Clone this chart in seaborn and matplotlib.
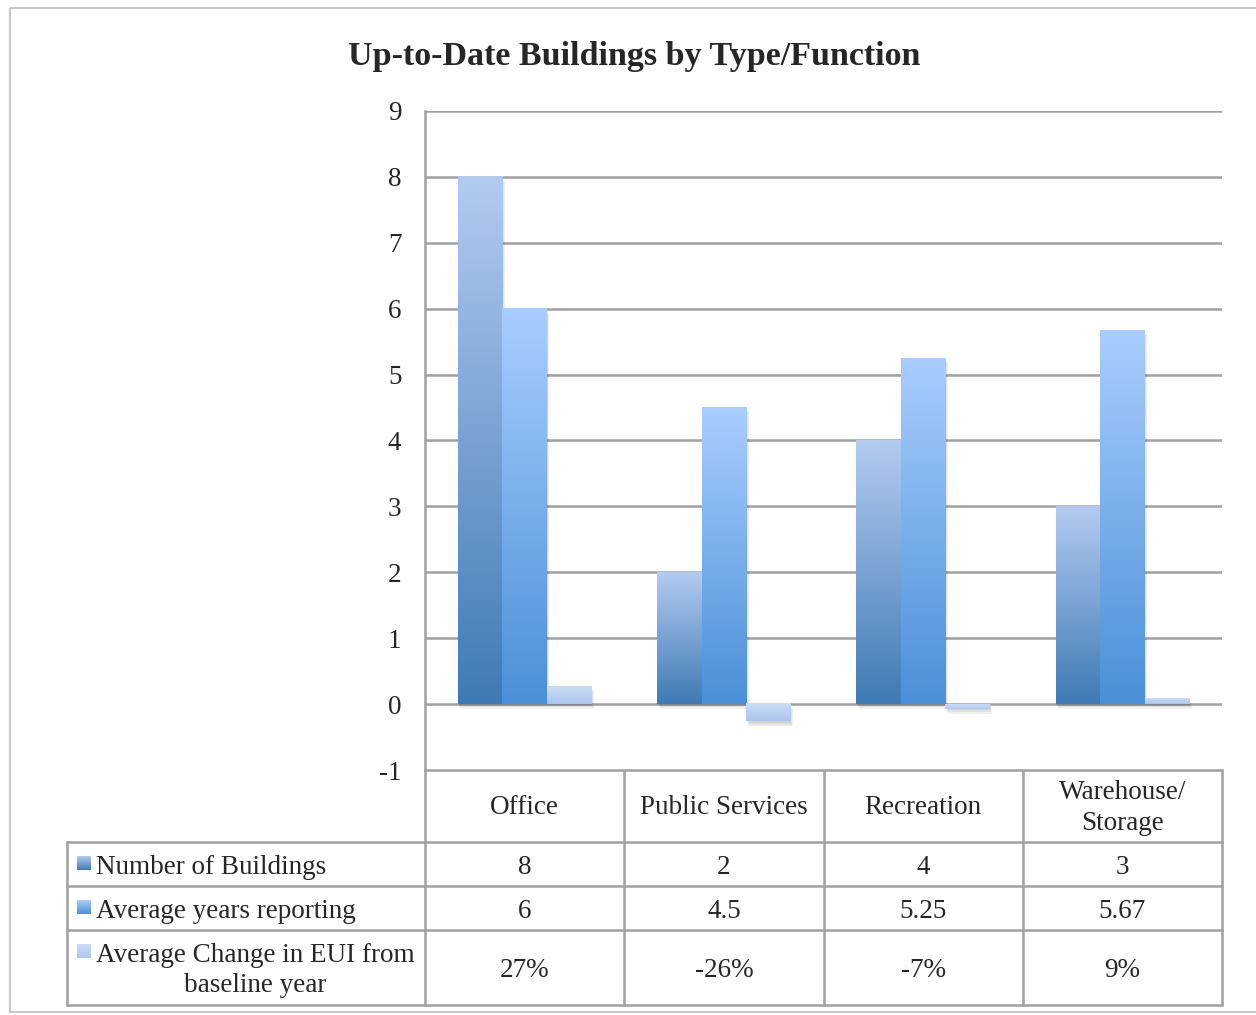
import numpy as np
import pandas as pd
import matplotlib
matplotlib.use("Agg")
import matplotlib.pyplot as plt
import seaborn as sns
from matplotlib.colors import LinearSegmentedColormap
from matplotlib.patches import Rectangle

# Datos
categories = ["Office", "Public Services", "Recreation", "Warehouse/\nStorage"]
series_names = ["Number of Buildings", "Average years reporting",
                "Average Change in EUI from\nbaseline year"]
num_buildings = [8, 2, 4, 3]
avg_years = [6, 4.5, 5.25, 5.67]
eui_change = [0.27, -0.26, -0.07, 0.09]
y_ticks = list(range(-1, 10))

# colores degradado (abajo, arriba)
gradients = [("#3f7ab5", "#b3cbf0"), ("#4a90d8", "#a9cdff"), ("#adc5ed", "#cadcf8")]

sns.set_style("white")
plt.rcParams["font.family"] = ["Liberation Serif", "DejaVu Serif"]
FS = 19.5

df = pd.DataFrame({
    "type": categories * 3,
    "series": [s for s in series_names for _ in categories],
    "value": num_buildings + avg_years + eui_change,
})

W, H = 1256, 1015
fig = plt.figure(figsize=(W / 100, H / 100), dpi=100)
left, right, top, bottom = 425, 1222, 111, 770
ax = fig.add_axes([left / W, 1 - bottom / H, (right - left) / W, (bottom - top) / H])

sns.barplot(data=df, x="type", y="value", hue="series", order=categories,
            hue_order=series_names, width=0.67, ax=ax, legend=False)

# degradado en cada barra
for cont, (c0, c1) in zip(ax.containers, gradients):
    cmap = LinearSegmentedColormap.from_list("g", [c0, c1])
    for p in cont:
        x0, w = p.get_x(), p.get_width()
        y0, h = p.get_y(), p.get_height()
        ymin, ymax = min(y0, y0 + h), max(y0, y0 + h)
        # sombra suave
        for k in range(3):
            ax.add_patch(Rectangle((x0 + 0.004 * (k + 1), ymin - 0.025 * (k + 1)), w, ymax - ymin,
                                   facecolor="#000000", alpha=0.06, lw=0, zorder=2))
        grad = np.linspace(1, 0, 256).reshape(-1, 1)
        ax.imshow(grad, extent=[x0, x0 + w, ymin, ymax], aspect="auto",
                  cmap=cmap, origin="upper", zorder=3)
        p.set_visible(False)

ax.set_xlim(-0.5, 3.5)
ax.set_ylim(-1, 9)
ax.set_yticks(y_ticks)
ax.set_yticklabels([str(t) for t in y_ticks], fontsize=FS)
ax.tick_params(axis="y", length=0, pad=17)
ax.set_xticks([])
ax.set_xlabel("")
ax.set_ylabel("")
ax.grid(axis="y", color="#a0a0a0", lw=1.8, zorder=1)
ax.set_axisbelow(True)
for s in ["top", "right", "bottom"]:
    ax.spines[s].set_visible(False)
ax.spines["left"].set_color("#a0a0a0")
ax.spines["left"].set_linewidth(1.8)

fig.text(634 / W, 1 - 57 / H, "Up-to-Date Buildings by Type/Function",
         ha="center", va="center", fontsize=24.5, fontweight="bold")

# tabla de datos
tab = fig.add_axes([0, 0, 1, 1], zorder=-1)
tab.set_xlim(0, W)
tab.set_ylim(H, 0)
tab.axis("off")
lc = "#a0a0a0"
tab.add_patch(Rectangle((10, 8), W, 1004, fill=False, ec="#c8c8c8", lw=1.5))

col_w = (right - left) / len(categories)
cols = [left + i * col_w for i in range(len(categories) + 1)]
row_y = [bottom, 842, 886, 930, 1005]
lab_x = 67

for cx in cols:
    tab.plot([cx, cx], [bottom, row_y[-1]], color=lc, lw=1.8)
tab.plot([lab_x, lab_x], [row_y[1], row_y[-1]], color=lc, lw=1.8)
tab.plot([left, right], [bottom, bottom], color=lc, lw=1.8)
for ry in row_y[1:]:
    tab.plot([lab_x, right], [ry, ry], color=lc, lw=1.8)

for i, cat in enumerate(categories):
    tab.text(cols[i] + col_w / 2, (row_y[0] + row_y[1]) / 2 + 2, cat,
             ha="center", va="center", fontsize=FS, linespacing=1.3)

rows = [[f"{v:g}" for v in num_buildings],
        [f"{v:g}" for v in avg_years],
        [f"{v:.0%}" for v in eui_change]]
for r, (name, vals) in enumerate(zip(series_names, rows)):
    yc = (row_y[r + 1] + row_y[r + 2]) / 2
    for i, v in enumerate(vals):
        tab.text(cols[i] + col_w / 2, yc + 3, v, ha="center", va="center", fontsize=FS)
    y_key = row_y[r + 1] + 14
    c0, c1 = gradients[r]
    cmap = LinearSegmentedColormap.from_list("k", [c0, c1])
    tab.imshow(np.linspace(1, 0, 64).reshape(-1, 1), extent=[77, 91, y_key + 14, y_key],
               aspect="auto", cmap=cmap, origin="upper")
    tab.text(96, yc + 3, name, ha="left", va="center", fontsize=FS,
             multialignment="center", linespacing=1.3)

tab.set_xlim(0, W)
tab.set_ylim(H, 0)

fig.savefig("out.png", dpi=100)
